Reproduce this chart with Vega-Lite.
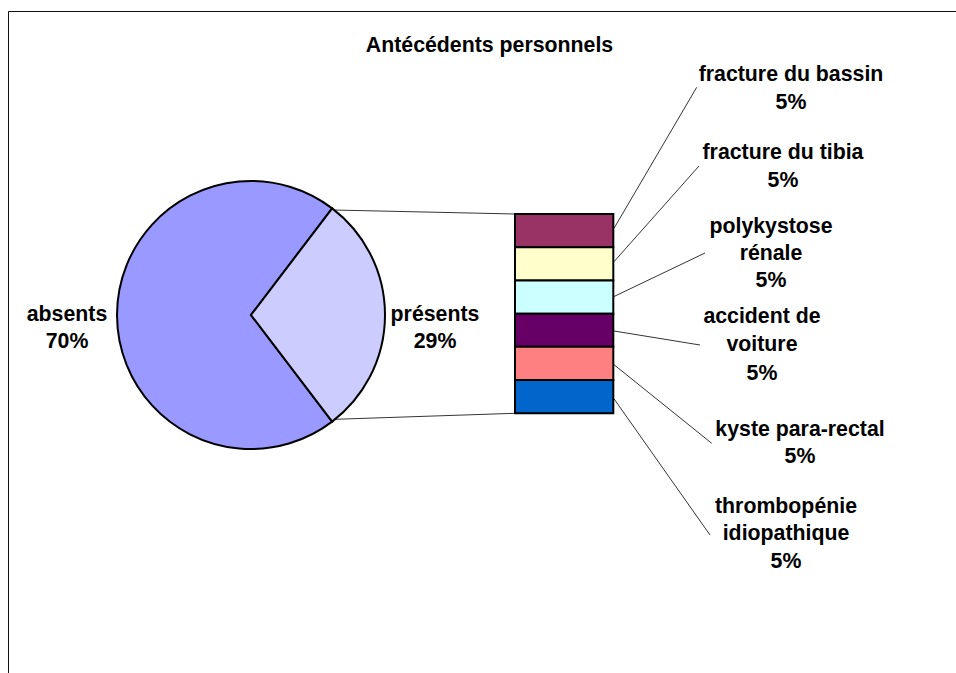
{
  "$schema": "https://vega.github.io/schema/vega-lite/v6.json",
  "width": 956,
  "height": 673,
  "autosize": "none",
  "padding": 0,
  "background": "white",
  "config": {
    "view": {"stroke": null},
    "axis": {"disable": true},
    "legend": {"disable": true},
    "text": {"font": "Liberation Sans", "fontWeight": "bold", "fontSize": 21.3, "fill": "#000"}
  },
  "datasets": {
    "pie": [
      {"name": "absents", "value": 0.70},
      {"name": "présents", "value": 0.29}
    ],
    "items": [
      {"name": "fracture du bassin", "value": 0.05},
      {"name": "fracture du tibia", "value": 0.05},
      {"name": "polykystose\nrénale", "value": 0.05},
      {"name": "accident de\nvoiture", "value": 0.05},
      {"name": "kyste para-rectal", "value": 0.05},
      {"name": "thrombopénie\nidiopathique", "value": 0.05}
    ],
    "blank": [{}]
  },
  "resolve": {"scale": {"y": "independent"}},
  "layer": [
    {
      "layer": [
        {
          "data": {"name": "blank"},
          "mark": {"type": "rect", "fill": null, "stroke": "#111", "strokeWidth": 1, "clip": true},
          "encoding": {
            "x": {"datum": 8.5, "type": "quantitative", "scale": {"domain": [0, 956], "nice": false, "zero": false}, "axis": null},
            "x2": {"datum": 990},
            "y": {"datum": 11.5, "type": "quantitative", "scale": {"domain": [0, 673], "reverse": true, "nice": false, "zero": false}, "axis": null},
            "y2": {"datum": 700}
          }
        },
        {
          "data": {"name": "blank"},
          "mark": {"type": "text", "text": "Antécédents personnels", "align": "center", "baseline": "alphabetic"},
          "encoding": {"x": {"datum": 489.5}, "y": {"datum": 51.7}}
        },
        {
          "data": {"name": "blank"},
          "mark": {"type": "rule", "stroke": "#000", "strokeWidth": 0.8},
          "encoding": {"x": {"datum": 333.3}, "y": {"datum": 210}, "x2": {"datum": 515}, "y2": {"datum": 214}}
        },
        {
          "data": {"name": "blank"},
          "mark": {"type": "rule", "stroke": "#000", "strokeWidth": 0.8},
          "encoding": {"x": {"datum": 335}, "y": {"datum": 419.3}, "x2": {"datum": 515}, "y2": {"datum": 413.3}}
        },
        {
          "data": {"name": "pie"},
          "mark": {"type": "arc", "outerRadius": 134, "stroke": "#000", "strokeWidth": 2},
          "encoding": {
            "x": {"datum": 251},
            "y": {"datum": 315},
            "theta": {"field": "value", "type": "quantitative", "stack": true, "scale": {"range": [0.65053, 6.93372]}},
            "order": {"field": "value", "sort": "ascending"},
            "color": {
              "field": "name", "type": "nominal", "legend": null,
              "scale": {
                "domain": ["absents", "présents", "fracture du bassin", "fracture du tibia", "polykystose\nrénale", "accident de\nvoiture", "kyste para-rectal", "thrombopénie\nidiopathique"],
                "range": ["#9999FF", "#CCCCFF", "#993366", "#FFFFCC", "#CCFFFF", "#660066", "#FF8080", "#0066CC"]
              }
            }
          }
        },
        {
          "data": {"name": "pie"},
          "mark": {"type": "text", "radius": 184, "align": "center", "baseline": "middle", "lineBreak": "\n", "lineHeight": 27.5,
                   "text": {"expr": "datum.name + '\\n' + format(datum.value, '.0%')"}},
          "encoding": {
            "x": {"datum": 251},
            "y": {"datum": 315},
            "theta": {"field": "value", "type": "quantitative", "stack": true, "scale": {"range": [0.65053, 6.93372]}},
            "order": {"field": "value", "sort": "ascending"}
          }
        },
        {
          "data": {"name": "items"},
          "transform": [{"filter": {"field": "name", "equal": "fracture du bassin"}}],
          "layer": [
            {"mark": {"type": "rule", "stroke": "#000", "strokeWidth": 0.8},
             "encoding": {"x": {"datum": 614}, "y": {"datum": 228.3}, "x2": {"datum": 696.7}, "y2": {"datum": 87.3}}},
            {"mark": {"type": "text", "align": "center", "baseline": "alphabetic", "lineBreak": "\n", "lineHeight": 27.5,
                      "text": {"expr": "datum.name + '\\n' + format(datum.value, '.0%')"}},
             "encoding": {"x": {"datum": 791}, "y": {"datum": 81}}}
          ]
        },
        {
          "data": {"name": "items"},
          "transform": [{"filter": {"field": "name", "equal": "fracture du tibia"}}],
          "layer": [
            {"mark": {"type": "rule", "stroke": "#000", "strokeWidth": 0.8},
             "encoding": {"x": {"datum": 614}, "y": {"datum": 261.7}, "x2": {"datum": 699}, "y2": {"datum": 166}}},
            {"mark": {"type": "text", "align": "center", "baseline": "alphabetic", "lineBreak": "\n", "lineHeight": 27.5,
                      "text": {"expr": "datum.name + '\\n' + format(datum.value, '.0%')"}},
             "encoding": {"x": {"datum": 783}, "y": {"datum": 159}}}
          ]
        },
        {
          "data": {"name": "items"},
          "transform": [{"filter": {"field": "name", "equal": "polykystose\nrénale"}}],
          "layer": [
            {"mark": {"type": "rule", "stroke": "#000", "strokeWidth": 0.8},
             "encoding": {"x": {"datum": 614}, "y": {"datum": 296.5}, "x2": {"datum": 705}, "y2": {"datum": 253}}},
            {"mark": {"type": "text", "align": "center", "baseline": "alphabetic", "lineBreak": "\n", "lineHeight": 27,
                      "text": {"expr": "datum.name + '\\n' + format(datum.value, '.0%')"}},
             "encoding": {"x": {"datum": 771}, "y": {"datum": 233.3}}}
          ]
        },
        {
          "data": {"name": "items"},
          "transform": [{"filter": {"field": "name", "equal": "accident de\nvoiture"}}],
          "layer": [
            {"mark": {"type": "rule", "stroke": "#000", "strokeWidth": 0.8},
             "encoding": {"x": {"datum": 614}, "y": {"datum": 331}, "x2": {"datum": 700}, "y2": {"datum": 345}}},
            {"mark": {"type": "text", "align": "center", "baseline": "alphabetic", "lineBreak": "\n", "lineHeight": 28.3,
                      "text": {"expr": "datum.name + '\\n' + format(datum.value, '.0%')"}},
             "encoding": {"x": {"datum": 762}, "y": {"datum": 323}}}
          ]
        },
        {
          "data": {"name": "items"},
          "transform": [{"filter": {"field": "name", "equal": "kyste para-rectal"}}],
          "layer": [
            {"mark": {"type": "rule", "stroke": "#000", "strokeWidth": 0.8},
             "encoding": {"x": {"datum": 614}, "y": {"datum": 364.7}, "x2": {"datum": 711.7}, "y2": {"datum": 443.3}}},
            {"mark": {"type": "text", "align": "center", "baseline": "alphabetic", "lineBreak": "\n", "lineHeight": 27.6,
                      "text": {"expr": "datum.name + '\\n' + format(datum.value, '.0%')"}},
             "encoding": {"x": {"datum": 800}, "y": {"datum": 435.7}}}
          ]
        },
        {
          "data": {"name": "items"},
          "transform": [{"filter": {"field": "name", "equal": "thrombopénie\nidiopathique"}}],
          "layer": [
            {"mark": {"type": "rule", "stroke": "#000", "strokeWidth": 0.8},
             "encoding": {"x": {"datum": 614}, "y": {"datum": 398.8}, "x2": {"datum": 710}, "y2": {"datum": 535}}},
            {"mark": {"type": "text", "align": "center", "baseline": "alphabetic", "lineBreak": "\n", "lineHeight": 27.8,
                      "text": {"expr": "datum.name + '\\n' + format(datum.value, '.0%')"}},
             "encoding": {"x": {"datum": 786}, "y": {"datum": 512.7}}}
          ]
        }
      ]
    },
    {
      "data": {"name": "items"},
      "mark": {"type": "bar", "stroke": "#000", "strokeWidth": 2},
      "encoding": {
        "x": {"datum": 515},
        "x2": {"datum": 613.3},
        "y": {
          "field": "name", "type": "nominal", "axis": null,
          "sort": ["fracture du bassin", "fracture du tibia", "polykystose\nrénale", "accident de\nvoiture", "kyste para-rectal", "thrombopénie\nidiopathique"],
          "scale": {"type": "band", "range": [214, 413.3], "paddingInner": 0, "paddingOuter": 0}
        },
        "color": {
          "field": "name", "type": "nominal", "legend": null,
          "scale": {
            "domain": ["absents", "présents", "fracture du bassin", "fracture du tibia", "polykystose\nrénale", "accident de\nvoiture", "kyste para-rectal", "thrombopénie\nidiopathique"],
            "range": ["#9999FF", "#CCCCFF", "#993366", "#FFFFCC", "#CCFFFF", "#660066", "#FF8080", "#0066CC"]
          }
        }
      }
    }
  ]
}
